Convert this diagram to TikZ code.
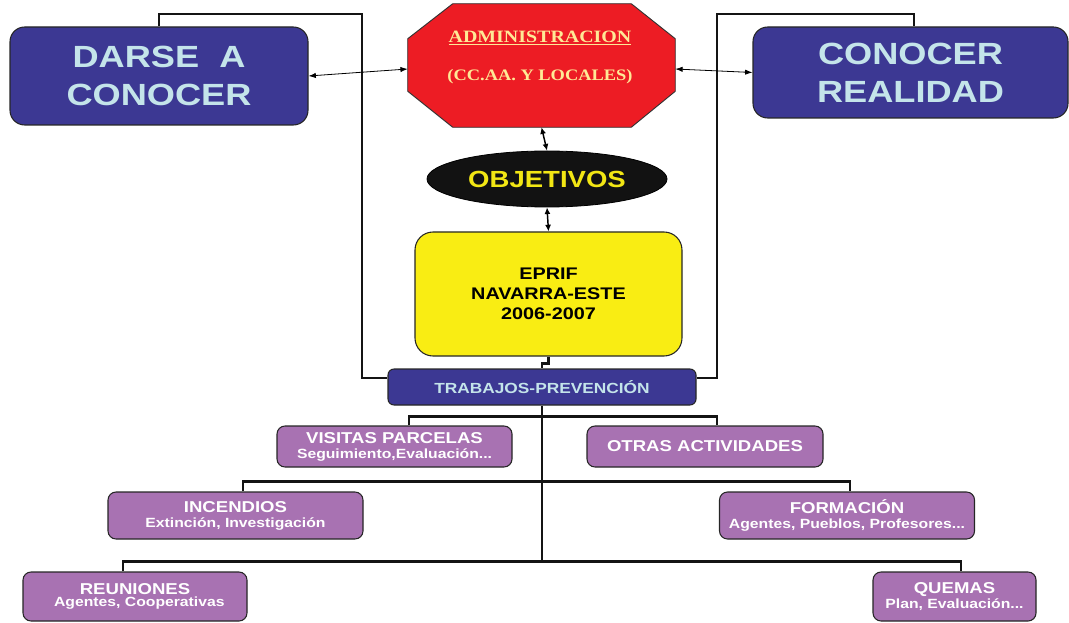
\documentclass[tikz,border=0pt]{standalone}
\usepackage{fontspec}
\setmainfont{Liberation Serif}
\newfontfamily\hs[FakeStretch=1.18]{Liberation Sans}
\newfontfamily\hserif[FakeStretch=1.15]{Liberation Serif}
\usetikzlibrary{shapes.geometric,arrows.meta,calc}
\definecolor{navy}{RGB}{60,56,147}
\definecolor{lcyan}{RGB}{196,228,234}
\definecolor{octred}{RGB}{237,28,36}
\definecolor{octtext}{RGB}{255,233,150}
\definecolor{ybox}{RGB}{249,237,19}
\definecolor{objtext}{RGB}{242,230,20}
\definecolor{objfill}{RGB}{18,18,18}
\definecolor{purp}{RGB}{168,114,178}
\begin{document}
\begin{tikzpicture}[x=0.75pt,y=-0.75pt,
  boxline/.style={draw=black!85,line width=0.8pt},
  bigblue/.style={boxline,fill=navy,rounded corners=11pt,text=lcyan,align=center,inner sep=0pt,
    font={\hs\bfseries\fontsize{23}{28.5}\selectfont}},
  smallblue/.style={boxline,fill=navy,rounded corners=4.5pt,text=lcyan,align=center,inner sep=0pt,
    font={\hs\bfseries\fontsize{11}{13}\selectfont}},
  purpbox/.style={boxline,fill=purp,rounded corners=6pt,text=white,align=center,inner sep=0pt,
    font={\hs\bfseries\fontsize{11.8}{11.3}\selectfont}},
  tightbox/.style={purpbox,font={\hs\bfseries\fontsize{11.8}{9}\selectfont}},
  bold/.style={line width=2.2pt,draw=black!92},
  thinarrow/.style={line width=0.6pt,{Latex[length=5.5pt,width=4pt]}-{Latex[length=5.5pt,width=4pt]}},
  thickarrow/.style={line width=1.1pt,{Latex[length=5pt,width=4.5pt]}-{Latex[length=5pt,width=4.5pt]}}
]
\path[use as bounding box] (0,0) rectangle (1069,623);

% top boxes
\node[bigblue,minimum width=223.5pt,minimum height=73.5pt] (darse) at (159,76) {DARSE\ \ A\\CONOCER};
\node[bigblue,minimum width=236.25pt,minimum height=68.25pt] (conocer) at (910.5,72.5) {CONOCER\\REALIDAD};

% octagon
\node[minimum width=200.25pt,minimum height=92.25pt,inner sep=0pt] (admin) at (541.5,65.5) {};
\draw[line width=0.7pt,draw=black!80,fill=octred]
  ($(admin.north west)+(45,0)$) -- ($(admin.north east)+(-44,0)$) -- ($(admin.north east)+(0,35)$)
  -- ($(admin.south east)+(0,-36)$) -- ($(admin.south east)+(-44,0)$) -- ($(admin.south west)+(45,0)$)
  -- ($(admin.south west)+(0,-36)$) -- ($(admin.north west)+(0,35)$) -- cycle;
\node[text=octtext,align=center,inner sep=0pt,font={\hserif\bfseries\fontsize{13}{28.5}\selectfont}] (admintext) at (540,57)
  {\underline{ADMINISTRACION}\\{\fontsize{12}{28.5}\selectfont (CC.AA. Y LOCALES)}};

% ellipse
\node[ellipse,draw=black,line width=0.6pt,fill=objfill,text=objtext,minimum width=180pt,minimum height=42pt,inner sep=0pt,
  font={\hs\bfseries\fontsize{17.5}{20}\selectfont}] (obj) at (547,179) {OBJETIVOS};

% EPRIF
\node[boxline,fill=ybox,rounded corners=13.5pt,minimum width=200.25pt,minimum height=93pt,align=center,inner sep=0pt,
  font={\hs\bfseries\fontsize{12.6}{15}\selectfont}] (eprif) at (548.5,294) {EPRIF\\NAVARRA-ESTE\\2006-2007};

% TRABAJOS
\node[smallblue,minimum width=231pt,minimum height=27pt] (trab) at (542,387) {TRABAJOS-PREVENCIÓN};

% purple boxes
\node[purpbox,minimum width=176.25pt,minimum height=30.75pt] (visitas) at (394.5,446.5)
  {VISITAS PARCELAS\\{\fontsize{10}{11.3}\selectfont Seguimiento,Evaluación...}};
\node[purpbox,minimum width=177pt,minimum height=30.75pt] (otras) at (705,446.5) {OTRAS ACTIVIDADES};
\node[purpbox,minimum width=191.25pt,minimum height=35.25pt] (incendios) at (235.5,515.5)
  {INCENDIOS\\{\fontsize{10}{11.3}\selectfont Extinción, Investigación}};
\node[purpbox,minimum width=191.25pt,minimum height=35.25pt] (formacion) at (847,515.5)
  {FORMACIÓN\\{\fontsize{10}{11.3}\selectfont Agentes, Pueblos, Profesores...}};
\node[tightbox,minimum width=168pt,minimum height=36.75pt] (reuniones) at (135,596.5)
  {REUNIONES\\{\fontsize{10}{9}\selectfont \ \ Agentes, Cooperativas}};
\node[tightbox,minimum width=122.25pt,minimum height=36.75pt] (quemas) at (954.5,596.5)
  {QUEMAS\\{\fontsize{10}{9}\selectfont Plan, Evaluación...}};

% bold frame lines
\draw[bold] (darse.north) |- (362,14) |- ($(trab.west)+(0,-9)$);
\draw[bold] ($(conocer.north)+(3.5,0)$) |- (717,14) |- ($(trab.east)+(0,-9)$);

% eprif to trabajos
\draw[bold,line width=1.6pt] (eprif.south) -- ++(0,7) -| (trab.north);

% tree
\coordinate (rb) at ($(reuniones.north)+(-12,-10)$);
\draw[bold] (trab.south) -- (trab.south |- rb);
\draw[bold] ($(visitas.north)+(14.5,0)$) -- ++(0,-9) -| ($(otras.north)+(12,0)$);
\draw[bold] ($(incendios.north)+(7.5,0)$) -- ++(0,-10) -| ($(formacion.north)+(3,0)$);
\draw[bold] ($(reuniones.north)+(-12,0)$) -- ++(0,-10) -| ($(quemas.north)+(6.5,0)$);

% arrows
\draw[thinarrow] (darse.east) -- ($(admin.west)+(0,3.5)$);
\draw[thinarrow] ($(admin.east)+(0,3.5)$) -- (conocer.west);
\draw[thickarrow] (admin.south) -- (obj.north);
\draw[thickarrow] (obj.south) -- (eprif.north);
\end{tikzpicture}
\end{document}
